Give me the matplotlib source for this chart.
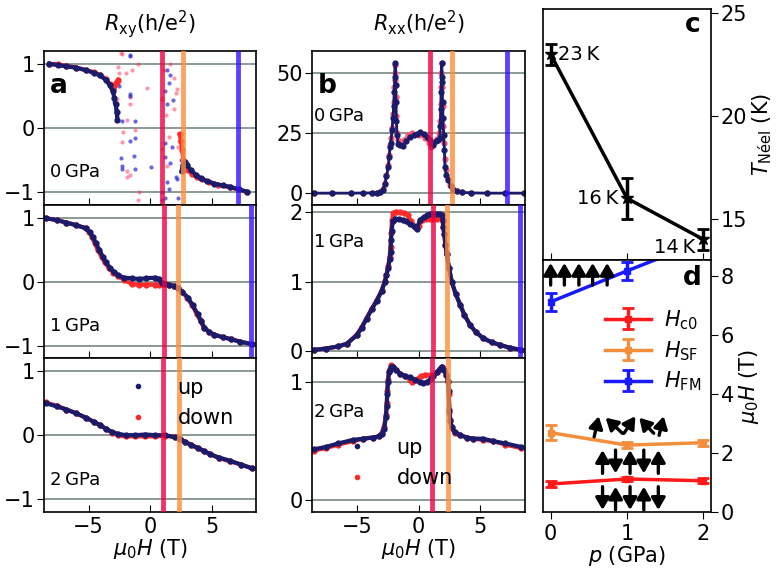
import matplotlib
matplotlib.use("Agg")
import matplotlib.pyplot as plt
from matplotlib.lines import Line2D

plt.rcParams['font.family'] = ['DejaVu Sans']
plt.rcParams['font.size'] = 15
plt.rcParams['mathtext.fontset'] = 'dejavusans'

# ---------------- data: field sweeps (T) ----------------
# panel a, 0 GPa (Rxy)
a0_up_left_x = [-8.2, -7.5, -6.8, -6.0, -5.2, -4.6, -4.1, -3.6, -3.3, -3.05, -2.9, -2.8, -2.72, -2.67]
a0_up_left_y = [1.0, 0.98, 0.96, 0.94, 0.9, 0.86, 0.82, 0.75, 0.67, 0.58, 0.47, 0.37, 0.25, 0.13]
a0_dn_left_x = [-8.2, -7.5, -6.8, -6.0, -5.2, -4.6, -4.1, -3.6, -3.3, -3.05, -2.9, -2.75, -2.6]
a0_dn_left_y = [1.0, 0.99, 0.97, 0.94, 0.9, 0.87, 0.83, 0.76, 0.68, 0.6, 0.65, 0.7, 0.75]
a0_up_right_x = [2.55, 2.65, 2.8, 3.0, 3.3, 3.7, 4.1, 4.6, 5.2, 5.9, 6.5, 7.2, 7.9]
a0_up_right_y = [-0.68, -0.58, -0.53, -0.58, -0.66, -0.73, -0.79, -0.83, -0.87, -0.9, -0.92, -0.96, -1.0]
a0_dn_right_x = [2.4, 2.5, 2.6, 2.7, 2.9, 3.1, 3.4, 3.8, 4.2, 4.8, 5.5, 6.5, 7.9]
a0_dn_right_y = [-0.1, -0.2, -0.35, -0.5, -0.6, -0.66, -0.72, -0.77, -0.8, -0.85, -0.89, -0.93, -1.0]
# scattered points in the hysteresis region
a0_up_sc_x = [-2.95, -2.85, -2.8, -2.75, -2.7, -2.6, -2.5, -2.4, -2.3, -2.3, -2.27, -1.65, -1.6, -1.6,
              -1.6, -1.3, -1.26, -1.2, -1.2, -1.6, 0.05, 1.2, 1.33, 1.5, 1.6, 1.2, 1.4, 1.87, 1.2, 1.8,
              1.2, 1.6, 2.5, 2.1, 2.2, 1.4, 1.5, 2.3, 0.95, 1.0]
a0_up_sc_y = [0.41, 0.38, 0.30, 0.25, 0.18, 0.70, 0.65, -0.47, -0.6, -0.65, 0.1, 0.53, 0.5, 1.14,
              1.12, -0.44, -0.16, 0.1, -0.65, -0.2, -0.61, 0.58, 0.9, 0.7, 0.83, -0.24, 0.38, 0.43, -0.45, -0.3,
              -1.1, -0.55, -0.5, -0.76, -0.8, -0.85, -0.95, -1.1, -1.0, -1.12]
a0_dn_sc_x = [-2.4, -2.3, -2.6, -2.5, -1.5, -0.95, -0.27, -1.6, -1.6, -1.9, -2.2, -1.2, -2.3, -1.9,
              -1.9, -1.6, -0.9, -1.0, 0.93, 0.95, 1.97, 2.1, 1.9, 2.4, 2.35, 2.3, 0.93, 1.3, 1.6, 1.1,
              1.5, 2.2, -2.0, -2.7, 1.4]
a0_dn_sc_y = [1.17, 1.15, 0.95, 0.85, 0.9, 1.0, 0.62, 0.48, 0.38, 0.12, -0.06, -0.03, -0.22, -0.67,
              -0.77, -0.73, -1.0, -1.12, 0.44, 0.47, 0.78, 0.55, 0.3, -0.1, -0.2, -0.3, -0.33, 0.2, 1.0, 0.9,
              -0.15, 0.6, 0.85, 0.45, -0.6]

# panel a, 1 GPa
a1_up_x = [-8.5, -7.6, -6.8, -6.0, -5.2, -4.9, -4.67, -4.4, -4.13, -3.85, -3.6, -3.25, -2.94, -2.6, -2.14,
           -1.5, -0.94, -0.3, 0.4, 0.75, 0.93, 1.2, 1.5, 1.9, 2.26, 2.6, 3.06, 3.45, 3.86, 4.15,
           4.4, 4.8, 5.2, 5.9, 6.55, 7.3, 8.3]
a1_up_y = [0.99, 0.96, 0.92, 0.88, 0.83, 0.77, 0.70, 0.6, 0.49, 0.39, 0.30, 0.21, 0.15, 0.1, 0.06,
           0.05, 0.04, 0.05, 0.06, 0.04, -0.02, -0.04, -0.05, -0.07, -0.1, -0.16, -0.25, -0.37, -0.51, -0.62,
           -0.72, -0.79, -0.83, -0.87, -0.9, -0.94, -0.98]
a1_dn_x = [-8.5, -7.6, -6.8, -6.0, -5.2, -4.95, -4.75, -4.5, -4.25, -3.95, -3.7, -3.35, -3.0, -2.6, -2.14,
           -1.5, -0.94, -0.3, 0.4, 0.75, 0.93, 1.2, 1.5, 1.9, 2.26, 2.6, 3.0, 3.4, 3.8, 4.1,
           4.35, 4.8, 5.2, 5.9, 6.55, 7.3, 8.3]
a1_dn_y = [0.99, 0.96, 0.92, 0.88, 0.83, 0.77, 0.70, 0.6, 0.49, 0.39, 0.30, 0.21, 0.14, 0.08, 0.03,
           -0.04, -0.05, -0.05, -0.05, -0.05, -0.04, -0.04, -0.05, -0.07, -0.1, -0.16, -0.25, -0.37, -0.51, -0.62,
           -0.72, -0.79, -0.83, -0.87, -0.9, -0.94, -0.98]

# panel a, 2 GPa
a2_up_x = [-8.5, -7.6, -6.8, -6.0, -5.2, -4.6, -4.1, -3.6, -3.1, -2.6, -2.0, -1.2, -0.4, 0.4, 1.2,
           2.0, 2.4, 2.8, 3.3, 3.86, 4.4, 4.9, 5.6, 6.5, 7.4, 8.3]
a2_up_y = [0.50, 0.45, 0.40, 0.34, 0.27, 0.21, 0.16, 0.10, 0.05, 0.02, 0.0, 0.0, 0.01, 0.0, 0.0,
           -0.03, -0.06, -0.1, -0.15, -0.2, -0.25, -0.3, -0.35, -0.4, -0.46, -0.52]
a2_dn_x = [-8.5, -7.6, -6.8, -6.0, -5.2, -4.6, -4.1, -3.6, -3.1, -2.6, -2.0, -1.2, -0.4, 0.4, 1.2,
           2.0, 2.4, 2.8, 3.3, 3.86, 4.4, 4.9, 5.6, 6.5, 7.4, 8.3]
a2_dn_y = [0.51, 0.46, 0.40, 0.34, 0.27, 0.21, 0.16, 0.10, 0.04, 0.0, -0.02, -0.02, -0.02, -0.02, -0.01,
           -0.03, -0.06, -0.1, -0.15, -0.2, -0.25, -0.3, -0.36, -0.41, -0.46, -0.52]

# panel b, 0 GPa (Rxx)
b0_up_x = [-8.5, -7.0, -5.5, -4.5, -3.8, -3.4, -3.13, -2.9, -2.73, -2.6, -2.46, -2.38, -2.32, -2.25, -2.15,
           -2.08, -2.02, -1.97, -1.93, -1.9, -1.87, -1.84, -1.8, -1.75, -1.65, -1.5, -1.3, -1.0, -0.7, -0.4,
           -0.1, 0.1, 0.4, 0.7, 0.9, 1.05, 1.2, 1.4, 1.6, 1.7, 1.75, 1.79, 1.82, 1.85, 1.87,
           1.9, 1.93, 1.97, 2.02, 2.08, 2.13, 2.25, 2.4, 2.6, 2.8, 3.1, 3.5, 4.2, 5.5, 7.0, 8.5]
b0_up_y = [0.0, 0.0, 0.0, 0.05, 0.1, 0.25, 0.4, 1.5, 3.9, 7.0, 10.8, 15.0, 19.0, 21.0, 26.0,
           31.0, 36.0, 42.0, 48.0, 54.0, 45.0, 38.0, 30.0, 24.0, 20.5, 20.0, 19.5, 21.5, 23.3, 24.0,
           24.5, 25.4, 24.5, 23.5, 22.0, 20.5, 20.0, 21.5, 22.0, 23.0, 28.0, 35.0, 42.0, 48.0, 54.0,
           46.0, 38.0, 31.0, 24.0, 18.0, 10.8, 7.5, 5.3, 3.0, 1.5, 0.7, 0.3, 0.1, 0.0, 0.0, 0.0]
b0_dn_x = [-8.5, -7.0, -5.5, -4.5, -3.8, -3.4, -3.13, -2.9, -2.73, -2.6, -2.46, -2.38, -2.32, -2.25, -2.15,
           -2.08, -2.02, -1.97, -1.94, -1.91, -1.88, -1.85, -1.81, -1.76, -1.65, -1.5, -1.2, -0.9, -0.5, 0.0,
           0.5, 0.8, 1.0, 1.2, 1.5, 1.65, 1.72, 1.77, 1.81, 1.84, 1.87, 1.9, 1.94, 1.99, 2.05,
           2.12, 2.2, 2.35, 2.55, 2.8, 3.1, 3.5, 4.2, 5.5, 7.0, 8.5]
b0_dn_y = [0.0, 0.0, 0.0, 0.05, 0.1, 0.25, 0.5, 1.8, 4.3, 7.5, 11.5, 16.0, 20.0, 23.0, 27.0,
           33.0, 38.0, 44.0, 50.0, 53.0, 47.0, 40.0, 32.0, 25.0, 22.0, 21.0, 22.0, 24.0, 25.0, 24.0,
           23.0, 21.0, 19.0, 20.5, 22.5, 25.0, 30.0, 37.0, 44.0, 50.0, 54.0, 44.0, 36.0, 28.0, 21.0,
           14.0, 9.5, 6.0, 3.5, 1.6, 0.7, 0.3, 0.1, 0.0, 0.0, 0.0]

# panel b, 1 GPa
b1_up_x = [-8.5, -7.5, -6.5, -5.8, -5.0, -4.6, -4.2, -3.8, -3.4, -3.0, -2.73, -2.6, -2.46, -2.35, -2.27,
           -2.24, -2.18, -2.1, -1.9, -1.6, -1.25, -1.0, -0.7, -0.4, -0.16, 0.1, 0.4, 0.7, 0.9, 1.2,
           1.5, 1.7, 1.85, 1.94, 2.0, 2.07, 2.17, 2.27, 2.45, 2.67, 3.0, 3.35, 3.7, 4.15, 4.6,
           5.2, 5.9, 6.6, 7.4, 8.3]
b1_up_y = [0.02, 0.04, 0.07, 0.11, 0.23, 0.34, 0.47, 0.6, 0.72, 0.86, 1.0, 1.09, 1.2, 1.32, 1.42,
           1.6, 1.73, 1.86, 1.9, 1.89, 1.88, 1.86, 1.82, 1.79, 1.75, 1.88, 1.92, 1.95, 1.97, 1.96,
           1.97, 1.97, 1.95, 1.88, 1.78, 1.68, 1.52, 1.39, 1.2, 1.0, 0.82, 0.67, 0.52, 0.38, 0.28,
           0.19, 0.13, 0.09, 0.05, 0.02]
b1_dn_x = [-8.5, -7.5, -6.5, -5.8, -5.0, -4.6, -4.2, -3.8, -3.4, -3.0, -2.73, -2.6, -2.46, -2.35, -2.27,
           -2.22, -2.15, -2.05, -1.8, -1.5, -1.2, -0.9, -0.6, -0.3, 0.0, 0.3, 0.6, 0.9, 1.2, 1.5,
           1.7, 1.85, 1.94, 2.0, 2.07, 2.17, 2.27, 2.45, 2.67, 3.0, 3.35, 3.7, 4.15, 4.6,
           5.2, 5.9, 6.6, 7.4, 8.3]
b1_dn_y = [0.02, 0.04, 0.07, 0.11, 0.24, 0.35, 0.48, 0.61, 0.73, 0.87, 1.01, 1.1, 1.22, 1.35, 1.5,
           1.7, 1.88, 1.98, 2.0, 1.99, 1.98, 1.95, 1.86, 1.78, 1.8, 1.88, 1.9, 1.9, 1.9, 1.9,
           1.92, 1.9, 1.86, 1.78, 1.68, 1.52, 1.39, 1.2, 1.0, 0.82, 0.67, 0.52, 0.38, 0.28,
           0.19, 0.13, 0.09, 0.05, 0.02]

# panel b, 2 GPa
b2_up_x = [-8.5, -7.5, -6.5, -5.3, -4.5, -3.7, -3.2, -3.0, -2.8, -2.65, -2.58, -2.54, -2.48, -2.4, -2.33,
           -2.2, -2.05, -1.8, -1.5, -1.1, -0.7, -0.3, 0.1, 0.37, 0.7, 1.0, 1.2, 1.5, 1.7, 1.86,
           2.05, 2.25, 2.38, 2.44, 2.48, 2.55, 2.67, 2.9, 3.35, 3.9, 4.4, 5.2, 6.0, 7.0, 8.3]
b2_up_y = [0.43, 0.45, 0.48, 0.51, 0.52, 0.53, 0.54, 0.56, 0.6, 0.70, 0.8, 0.9, 1.0, 1.08, 1.1,
           1.13, 1.13, 1.1, 1.07, 1.05, 1.04, 1.02, 1.0, 0.99, 1.0, 1.03, 1.05, 1.08, 1.11, 1.13,
           1.1, 1.06, 1.01, 0.92, 0.76, 0.68, 0.62, 0.58, 0.55, 0.53, 0.52, 0.52, 0.5, 0.48, 0.45]
b2_dn_x = [-8.5, -7.5, -6.5, -5.3, -4.5, -3.7, -3.2, -3.0, -2.8, -2.65, -2.58, -2.54, -2.48, -2.4, -2.33,
           -2.2, -2.05, -1.8, -1.5, -1.1, -0.7, -0.5, -0.2, 0.2, 0.5, 1.0, 1.2, 1.5, 1.7, 1.86,
           2.05, 2.25, 2.38, 2.44, 2.48, 2.55, 2.67, 2.9, 3.35, 3.9, 4.4, 5.2, 6.0, 7.0, 8.3]
b2_dn_y = [0.42, 0.44, 0.47, 0.5, 0.52, 0.53, 0.54, 0.57, 0.62, 0.72, 0.82, 0.92, 1.02, 1.09, 1.11,
           1.14, 1.13, 1.1, 1.07, 1.05, 1.02, 1.0, 1.02, 1.05, 1.06, 1.06, 1.06, 1.08, 1.11, 1.13,
           1.1, 1.06, 1.0, 0.9, 0.75, 0.67, 0.61, 0.57, 0.55, 0.53, 0.52, 0.51, 0.5, 0.47, 0.44]

# ---------------- data: phase diagram ----------------
pressure = [0, 1, 2]
t_neel = [23.0, 16.0, 14.0]
t_neel_err = [0.5, 1.0, 0.5]
t_neel_text = ['23\u2009K', '16\u2009K', '14\u2009K']
h_c0 = [0.95, 1.12, 1.06]
h_c0_err = [0.1, 0.08, 0.08]
h_sf = [2.69, 2.27, 2.35]
h_sf_err = [0.25, 0.1, 0.1]
h_fm = [7.13, 8.18, 9.2]
h_fm_err = [0.3, 0.3, 0.3]
pressure_labels = ['0\u2009GPa', '1\u2009GPa', '2\u2009GPa']

# spin cartoons in panel d: (p_start, H_start, p_end, H_end)
arrows_fm = [(0.0, 7.7, 0.0, 8.45), (0.18, 7.7, 0.18, 8.45), (0.37, 7.7, 0.37, 8.45),
             (0.55, 7.7, 0.55, 8.45), (0.74, 7.7, 0.74, 8.45)]
arrows_sf = [(0.57, 2.55, 0.63, 3.25), (0.94, 2.67, 0.72, 3.2), (0.96, 2.67, 1.11, 3.25),
             (1.35, 2.67, 1.16, 3.2), (1.42, 2.6, 1.48, 3.25)]
arrows_afm1 = [(0.68, 1.31, 0.68, 2.1), (0.85, 2.1, 0.85, 1.31), (1.04, 1.31, 1.04, 2.1),
               (1.22, 2.1, 1.22, 1.31), (1.41, 1.31, 1.41, 2.1)]
arrows_afm2 = [(0.68, 0.86, 0.68, 0.07), (0.85, 0.07, 0.85, 0.86), (1.04, 0.86, 1.04, 0.07),
               (1.22, 0.07, 1.22, 0.86), (1.41, 0.86, 1.41, 0.07)]

# ---------------- style ----------------
UP = '#1b1b6b'
DOWN = '#ff2a2a'
VL_RED = '#ee0044'
VL_ORANGE = '#ff8c3a'
VL_BLUE = '#3311ff'
GRID = '#82928e'

W, H = 776, 571
fig = plt.figure(figsize=(W / 100, H / 100), dpi=100)


def px_axes(x0, x1, y0, y1):
    return fig.add_axes([x0 / W, 1 - y1 / H, (x1 - x0) / W, (y1 - y0) / H])


rows = [(51, 204.7), (204.7, 358.3), (358.3, 512)]
ax_a = [px_axes(44.3, 256, r0, r1) for r0, r1 in rows]
ax_b = [px_axes(312.3, 525, r0, r1) for r0, r1 in rows]
ax_c = px_axes(543, 711, 9, 260)
ax_d = px_axes(543, 711, 260, 512)


def curve(ax, x, y, color, lw=3, ms=3.5):
    ax.plot(x, y, '-o', color=color, lw=lw, ms=ms, zorder=2)


def vlines(ax, i):
    for val, col in ((h_c0[i], VL_RED), (h_sf[i], VL_ORANGE), (h_fm[i], VL_BLUE)):
        ax.axvline(val, color=col, lw=3.5, alpha=0.8, zorder=4)


# panel a
ax = ax_a[0]
ax.scatter(a0_dn_sc_x, a0_dn_sc_y, s=9, color='#ff3355', alpha=0.5, lw=0, zorder=2)
ax.scatter(a0_up_sc_x, a0_up_sc_y, s=9, color='#2a2ad0', alpha=0.7, lw=0, zorder=2)
curve(ax, a0_dn_left_x, a0_dn_left_y, DOWN)
curve(ax, a0_dn_right_x, a0_dn_right_y, DOWN)
curve(ax, a0_up_left_x, a0_up_left_y, UP)
curve(ax, a0_up_right_x, a0_up_right_y, UP)
curve(ax_a[1], a1_dn_x, a1_dn_y, DOWN)
curve(ax_a[1], a1_up_x, a1_up_y, UP)
curve(ax_a[2], a2_dn_x, a2_dn_y, DOWN)
curve(ax_a[2], a2_up_x, a2_up_y, UP)

# panel b
curve(ax_b[0], b0_dn_x, b0_dn_y, '#ff5570', lw=1.5, ms=3.5)
curve(ax_b[0], b0_up_x, b0_up_y, UP, lw=2, ms=3.5)
curve(ax_b[1], b1_dn_x, b1_dn_y, DOWN)
curve(ax_b[1], b1_up_x, b1_up_y, UP)
curve(ax_b[2], b2_dn_x, b2_dn_y, DOWN)
curve(ax_b[2], b2_up_x, b2_up_y, UP)

a_yticks = [[-1, 0, 1]] * 3
b_yticks = [[0, 25, 50], [0, 1, 2], [0, 1]]
b_ylims = [(-4.8, 59), (-0.1, 2.1), (-0.1, 1.2)]
b_text_y = [0.58, 0.76, 0.65]

for i in range(3):
    for ax, yt, yl in ((ax_a[i], a_yticks[i], (-1.2, 1.2)), (ax_b[i], b_yticks[i], b_ylims[i])):
        vlines(ax, i)
        ax.set_xlim(-8.6, 8.6)
        ax.set_ylim(*yl)
        ax.set_yticks(yt)
        ax.set_xticks([-5, 0, 5])
        for v in yt:
            ax.axhline(v, color=GRID, lw=1.3, zorder=1)
        ax.tick_params(axis='x', direction='in', length=5, labelsize=15)
        ax.tick_params(axis='y', direction='out', length=5, labelsize=15, pad=2)
        for s in ax.spines.values():
            s.set_linewidth(1.2)
        if i < 2:
            ax.tick_params(axis='x', labelbottom=False)
        else:
            ax.set_xlabel(r'$\mu_0H$ (T)', fontsize=15, labelpad=0)
    ax_a[i].text(0.027, 0.21, pressure_labels[i], transform=ax_a[i].transAxes,
                 fontsize=13, va='center', ha='left')
    ax_b[i].text(0.01, b_text_y[i], pressure_labels[i], transform=ax_b[i].transAxes,
                 fontsize=13, va='center', ha='left')

ax_a[0].set_title(r'$R_{\mathrm{xy}}$(h/e$^2$)', fontsize=15, pad=15)
ax_b[0].set_title(r'$R_{\mathrm{xx}}$(h/e$^2$)', fontsize=15, pad=15)
ax_a[0].text(0.027, 0.77, 'a', transform=ax_a[0].transAxes, fontsize=19,
             fontweight='bold', va='center', ha='left', zorder=6)
ax_b[0].text(0.027, 0.77, 'b', transform=ax_b[0].transAxes, fontsize=19,
             fontweight='bold', va='center', ha='left', zorder=6)

legend_handles = [Line2D([], [], ls='none', marker='o', ms=3, color=UP, label='up'),
                  Line2D([], [], ls='none', marker='o', ms=3, color=DOWN, label='down')]
ax_a[2].legend(handles=legend_handles, loc='center', bbox_to_anchor=(0.645, 0.71),
               frameon=False, fontsize=15, handlelength=1.0, handletextpad=1.4,
               labelspacing=0.5, borderpad=0)
ax_b[2].legend(handles=legend_handles, loc='center', bbox_to_anchor=(0.41, 0.32),
               frameon=False, fontsize=15, handlelength=1.0, handletextpad=1.4,
               labelspacing=0.5, borderpad=0)

# panel c
ax_c.errorbar(pressure, t_neel, yerr=t_neel_err, color='k', lw=2.5, capsize=4, capthick=2,
              marker='*', ms=9)
ax_c.set_xlim(-0.1, 2.1)
ax_c.set_ylim(13, 25.2)
ax_c.set_yticks([15, 20, 25])
ax_c.set_xticks([0, 1, 2])
ax_c.yaxis.tick_right()
ax_c.yaxis.set_label_position('right')
ax_c.tick_params(axis='x', direction='in', length=5, labelbottom=False)
ax_c.tick_params(axis='y', direction='out', length=5, labelsize=15, pad=2)
ax_c.set_ylabel(r'$T_{\mathrm{Néel}}$ (K)', fontsize=15, labelpad=2)
ax_c.text(pressure[0] + 0.1, t_neel[0], t_neel_text[0], fontsize=14, ha='left', va='center')
ax_c.text(pressure[1] - 0.12, t_neel[1], t_neel_text[1], fontsize=14, ha='right', va='center')
ax_c.text(pressure[2] - 0.1, t_neel[2] - 0.4, t_neel_text[2], fontsize=14, ha='right', va='center')
ax_c.text(0.935, 0.936, 'c', transform=ax_c.transAxes, fontsize=19, fontweight='bold',
          ha='right', va='center')

# panel d
for vals, errs, col, lab in ((h_c0, h_c0_err, '#ff1a1a', r'$H_{\mathrm{c0}}$'),
                             (h_sf, h_sf_err, '#f28e3c', r'$H_{\mathrm{SF}}$'),
                             (h_fm, h_fm_err, '#1a1aff', r'$H_{\mathrm{FM}}$')):
    ax_d.errorbar(pressure, vals, yerr=errs, color=col, lw=2.5, capsize=4, capthick=2,
                  marker='s', ms=4, label=lab)
for group in (arrows_fm, arrows_sf, arrows_afm1, arrows_afm2):
    for p0, h0, p1, h1 in group:
        ax_d.annotate('', xy=(p1, h1), xytext=(p0, h0),
                      arrowprops=dict(arrowstyle='-|>,head_length=0.55,head_width=0.32',
                                      lw=2.4, color='k', shrinkA=0, shrinkB=0,
                                      mutation_scale=13), zorder=5)
ax_d.set_xlim(-0.1, 2.1)
ax_d.set_ylim(0, 8.55)
ax_d.set_xticks([0, 1, 2])
ax_d.set_yticks([0, 2, 4, 6, 8])
ax_d.yaxis.tick_right()
ax_d.yaxis.set_label_position('right')
ax_d.tick_params(axis='x', direction='out', length=5, labelsize=15)
ax_d.tick_params(axis='y', direction='out', length=5, labelsize=15, pad=2)
ax_d.set_ylabel(r'$\mu_0H$ (T)', fontsize=15, labelpad=2)
ax_d.set_xlabel(r'$p$ (GPa)', fontsize=15, labelpad=0)
ax_d.text(0.945, 0.93, 'd', transform=ax_d.transAxes, fontsize=19, fontweight='bold',
          ha='right', va='center')
ax_d.legend(loc='center', bbox_to_anchor=(0.655, 0.64), frameon=False, fontsize=15,
            handlelength=2.2, handletextpad=0.6, labelspacing=0.35, borderpad=0)
for axx in (ax_c, ax_d):
    for s in axx.spines.values():
        s.set_linewidth(1.2)

fig.savefig('out.png', dpi=100)
